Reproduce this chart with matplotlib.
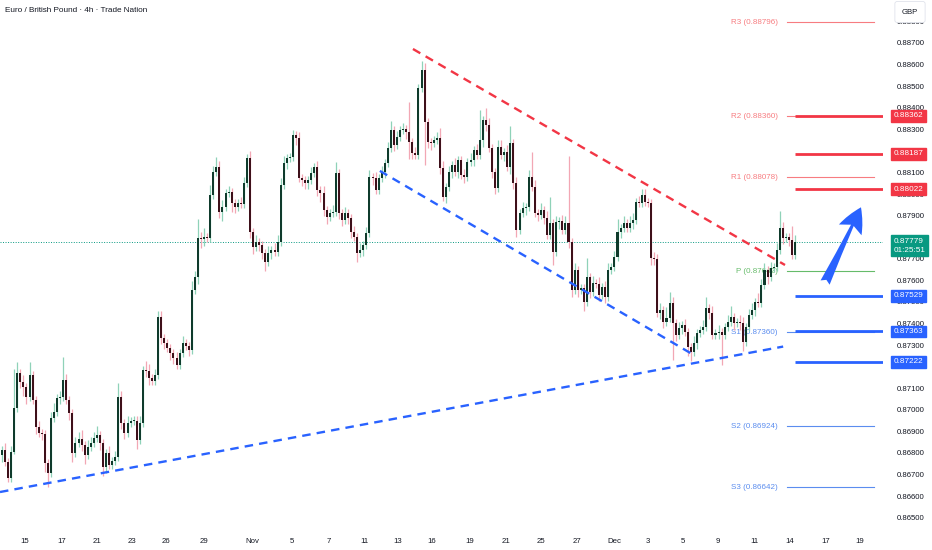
import matplotlib
matplotlib.use("Agg")
import matplotlib.pyplot as plt
import matplotlib.transforms as mtransforms
import numpy as np

plt.rcParams['font.family'] = ['Liberation Sans', 'DejaVu Sans']

title = "Euro / British Pound \u00b7 4h \u00b7 Trade Nation"

# 4h candles, open = previous close
first_open = 0.86790
closes = [
    0.86814, 0.86758, 0.86684, 0.86804, 0.87008, 0.87171, 0.87129, 0.87106, 0.87059, 0.87161,
    0.87045, 0.86920, 0.86893, 0.86888, 0.86753, 0.86707, 0.86962, 0.86990, 0.87055, 0.87059,
    0.87138, 0.87045, 0.86985, 0.86800, 0.86846, 0.86865, 0.86837, 0.86790, 0.86828, 0.86846,
    0.86869, 0.86883, 0.86846, 0.86735, 0.86800, 0.86744, 0.86763, 0.86781, 0.87059, 0.86939,
    0.86893, 0.86939, 0.86948, 0.86950, 0.86860, 0.86939, 0.87184, 0.87180, 0.87147, 0.87133,
    0.87161, 0.87430, 0.87333, 0.87310, 0.87286, 0.87263, 0.87240, 0.87208, 0.87263, 0.87310,
    0.87296, 0.87277, 0.87555, 0.87615, 0.87796, 0.87791, 0.87801, 0.87798, 0.87995, 0.88102,
    0.88125, 0.87917, 0.87940, 0.88005, 0.88009, 0.87958, 0.87940, 0.87958, 0.87955, 0.88051,
    0.88167, 0.87824, 0.87754, 0.87778, 0.87764, 0.87727, 0.87685, 0.87727, 0.87741, 0.87731,
    0.87778, 0.88042, 0.88144, 0.88167, 0.88171, 0.88273, 0.88259, 0.88074, 0.88065, 0.88051,
    0.88065, 0.88097, 0.88125, 0.88019, 0.88005, 0.87926, 0.87893, 0.87912, 0.87917, 0.88097,
    0.87912, 0.87880, 0.87912, 0.87889, 0.87824, 0.87801, 0.87727, 0.87741, 0.87764, 0.87819,
    0.88079, 0.88074, 0.88019, 0.88074, 0.88102, 0.88144, 0.88213, 0.88297, 0.88227, 0.88264,
    0.88297, 0.88301, 0.88287, 0.88241, 0.88190, 0.88181, 0.88491, 0.88575, 0.88334, 0.88241,
    0.88236, 0.88250, 0.88259, 0.88121, 0.87986, 0.88033, 0.88102, 0.88135, 0.88102, 0.88158,
    0.88088, 0.88079, 0.88148, 0.88158, 0.88204, 0.88181, 0.88250, 0.88343, 0.88320, 0.88213,
    0.88102, 0.88028, 0.88218, 0.88181, 0.88195, 0.88125, 0.88236, 0.88051, 0.87833, 0.87912,
    0.87935, 0.87940, 0.88079, 0.88033, 0.87912, 0.87903, 0.87926, 0.87889, 0.87810, 0.87866,
    0.87731, 0.87870, 0.87875, 0.87833, 0.87866, 0.87778, 0.87555, 0.87648, 0.87555, 0.87564,
    0.87500, 0.87615, 0.87546, 0.87588, 0.87585, 0.87532, 0.87569, 0.87523, 0.87648, 0.87662,
    0.87708, 0.87824, 0.87842, 0.87866, 0.87842, 0.87866, 0.87880, 0.87963, 0.87960, 0.87995,
    0.87963, 0.87958, 0.87703, 0.87700, 0.87449, 0.87463, 0.87407, 0.87425, 0.87495, 0.87402,
    0.87347, 0.87379, 0.87393, 0.87361, 0.87291, 0.87268, 0.87310, 0.87356, 0.87370, 0.87384,
    0.87472, 0.87449, 0.87347, 0.87356, 0.87361, 0.87347, 0.87384, 0.87407, 0.87430, 0.87402,
    0.87407, 0.87402, 0.87314, 0.87384, 0.87439, 0.87463, 0.87500, 0.87495, 0.87578, 0.87648,
    0.87615, 0.87657, 0.87662, 0.87741, 0.87842, 0.87796, 0.87801, 0.87787, 0.87717, 0.87779,
]
# wick lengths beyond the body, in pips
upper_wick = [
    2, 3, 2, 3, 18, 5, 2, 3, 2, 6,
    2, 2, 3, 2, 2, 2, 3, 4, 2, 3,
    10.5, 3, 2, 2, 3, 3, 4, 2, 3, 3,
    3, 4, 2, 2, 2, 3, 2, 3, 6.5, 3,
    2, 3, 2, 2, 2, 3, 2, 4, 3, 2,
    3, 3, 3, 2, 2, 2, 2, 3, 2, 3,
    2, 2, 4, 3, 9, 3, 4, 2, 4.5, 3,
    4.5, 3, 3, 2, 3, 2, 2, 2, 3, 3,
    2, 3, 2, 3, 2, 2, 2, 3, 2, 3,
    3, 3, 3, 2, 2, 2.5, 2, 3, 2, 2,
    2, 3, 2, 3, 2, 3, 2, 2, 3, 5,
    2, 2, 3, 2, 2, 3, 2, 3, 2, 3,
    3, 2, 3, 2, 3, 2, 3, 4, 2, 3,
    2, 3, 2, 14, 2, 3, 2, 4, 3, 2,
    2, 2, 3, 4.5, 3, 2, 3, 2, 3, 2,
    2, 3, 2, 3, 2, 3, 14, 2, 5.5, 3,
    2, 2, 3, 3, 2, 3, 8, 2, 3, 2,
    3, 2, 3, 11.5, 3, 2, 3, 2, 3, 12,
    2, 3, 2, 3, 3, 31, 2, 3, 2, 2,
    2, 9, 2, 3, 2, 3, 2, 3, 3, 2,
    3, 6, 2, 3, 2, 3, 3, 2, 3, 3,
    3, 2, 2, 3, 2, 3, 2, 5, 5, 3,
    2, 3, 2, 3, 2, 2, 3, 2, 2, 3,
    5, 2, 3, 2, 3, 2, 2, 3, 5, 2,
    2, 3, 3, 2, 3, 3, 2, 4, 3, 3,
    2, 3, 2, 3, 8, 3, 2, 2, 6.5, 3,
]
lower_wick = [
    3, 2, 2, 2, 1, 2, 3, 4, 3, 2,
    2, 3, 2, 3, 4, 6.5, 2, 2, 2, 3,
    2, 2, 3, 4, 2, 2, 3, 4, 2, 2,
    2, 2, 3, 4, 3, 2, 2, 2, 2, 3,
    3, 2, 2, 2, 4, 2, 2, 3, 3, 2,
    2, 2, 3, 3, 2, 3, 3, 2, 2, 2,
    2, 3, 2, 2, 3, 4, 3, 2, 2, 2,
    2, 3, 4, 2, 2, 4, 3, 2, 2, 2,
    2, 3, 3, 2, 3, 3, 4, 2, 3, 2,
    2, 2, 2, 3, 2, 2, 3, 2, 3, 3,
    3, 2, 2, 3, 4, 3, 3, 2, 2, 2,
    3, 3, 2, 3, 3, 2, 4, 2, 3, 2,
    2, 3, 2, 2, 2, 3, 2, 2, 3, 2,
    2, 2, 3, 8, 3, 2, 2, 2, 20, 3,
    3, 2, 2, 3, 2, 3, 2, 3, 2, 3,
    2, 3, 2, 2, 3, 2, 2, 3, 3, 2,
    3, 3, 2, 2, 3, 2, 3, 3, 3, 2,
    2, 3, 2, 2, 2, 3, 2, 3, 2, 2,
    6, 2, 3, 2, 2, 3, 3, 2, 3, 2,
    4, 2, 3, 2, 2, 3, 2, 3, 2, 2,
    2, 2, 3, 2, 2, 2, 3, 2, 2, 2,
    2, 2, 3, 3, 2, 3, 3, 2, 2, 17,
    3, 2, 3, 2, 4, 4, 2, 3, 2, 2,
    2, 3, 2, 2, 3, 14, 2, 2, 2, 3,
    2, 3, 4, 2, 2, 2, 3, 2, 2, 2,
    3, 2, 2, 2, 2, 3, 2, 3, 2, 2,
]

date_labels = ["15", "17", "21", "23", "26", "29", "Nov", "5", "7", "11", "13", "16",
               "19", "21", "25", "27", "Dec", "3", "5", "9", "11", "14", "17", "19"]
date_bars = [7.5, 19.6, 31.0, 42.5, 53.6, 66.0, 81.6, 94.7, 106.8, 118.2, 129.3, 140.4,
             152.8, 164.6, 176.0, 187.8, 199.9, 211.0, 222.4, 233.8, 245.6, 257.3, 269.1, 280.2]

pivot_names = ["R3", "R2", "R1", "P", "S1", "S2", "S3"]
pivot_values = [0.88796, 0.88360, 0.88078, 0.87642, 0.87360, 0.86924, 0.86642]

resistance_levels = [0.88362, 0.88187, 0.88022]
support_levels = [0.87529, 0.87363, 0.87222]

last_price = 0.87779
countdown = "01:25:51"

# trendlines: (bar, price)
falling_resistance = [(134.2, 0.88672), (255.7, 0.87671)]
falling_support = [(123.4, 0.88107), (225.3, 0.87259)]
rising_support = [(-0.65, 0.86619), (255.1, 0.87293)]
arrow_from = (268.4, 0.87578)
arrow_to = (280.9, 0.87950)

RED = "#f23645"
BLUE = "#2962ff"
TEAL = "#089981"
TXT = "#131722"

fig = plt.figure(figsize=(9.32, 5.5), dpi=100)
ax = fig.add_axes([0, 20 / 550, 883 / 932, 530 / 550])
ax.set_xlim(-0.65, 287.7)
ax.set_ylim(0.86443, 0.88899)
for s in ax.spines.values():
    s.set_visible(False)

# candles
c = np.array(closes)
o = np.array([first_open] + closes[:-1])
x = np.arange(len(c))
hi = np.maximum(o, c) + np.array(upper_wick) * 1e-4
lo = np.minimum(o, c) - np.array(lower_wick) * 1e-4
up = c >= o
dn = ~up
ax.vlines(x[up], lo[up], hi[up], color="#8fd2b8", lw=0.9, zorder=3)
ax.vlines(x[dn], lo[dn], hi[dn], color="#f2a7b4", lw=0.9, zorder=3)
body = np.maximum(np.abs(c - o), 0.00003)
ax.bar(x[up], body[up], bottom=np.minimum(o, c)[up], width=0.66, color="#0f3b2c", zorder=4)
ax.bar(x[dn], body[dn], bottom=np.minimum(o, c)[dn], width=0.66, color="#3e101a", zorder=4)

# last price dotted line
ax.axhline(last_price, color=TEAL, lw=0.7, ls=(0, (1, 1.6)), zorder=1)

# trendlines
for line, col in [(falling_resistance, RED), (falling_support, BLUE), (rising_support, BLUE)]:
    ax.plot([line[0][0], line[1][0]], [line[0][1], line[1][1]], color=col, lw=1.7,
            dashes=(3.6, 2.6), zorder=5)

# pivot points
piv_col = {"R": "#f77c80", "P": "#66bb6a", "S": "#5b8def"}
for name, v in zip(pivot_names, pivot_values):
    col = piv_col[name[0]]
    ax.plot([256.4, 284.8], [v, v], color=col, lw=0.8, zorder=2)
    ax.text(253.3, v, f"{name} ({v:.5f})", color=col, fontsize=5.8, ha="right", va="center", zorder=2)

# horizontal levels
trans = mtransforms.blended_transform_factory(ax.transAxes, ax.transData)
for levels, col in [(resistance_levels, RED), (support_levels, BLUE)]:
    for v in levels:
        ax.plot([259.0, 287.7], [v, v], color=col, lw=2.0, zorder=5, solid_capstyle="butt")
        ax.text(1.012, v, f"{v:.5f}", transform=trans, color="white", fontsize=5.9,
                ha="left", va="center", zorder=10, clip_on=False,
                bbox=dict(boxstyle="square,pad=0.3", fc=col, ec=col))

ax.annotate(f"{last_price:.5f}\n{countdown}", xy=(1.012, last_price), xycoords=trans,
            xytext=(0, 2.6), textcoords="offset points", color="white", fontsize=5.9,
            ha="left", va="top", linespacing=1.3, zorder=10, annotation_clip=False,
            bbox=dict(boxstyle="square,pad=0.32", fc=TEAL, ec=TEAL))

# arrow
ax.annotate("", xy=arrow_to, xytext=arrow_from,
            arrowprops=dict(arrowstyle="fancy,head_length=1.5,head_width=1.5,tail_width=0.6",
                            color=BLUE, lw=0, mutation_scale=12), zorder=6)

# axes ticks
ax.yaxis.tick_right()
ax.set_yticks(np.arange(0.865, 0.8885, 0.001))
ax.yaxis.set_major_formatter(matplotlib.ticker.FormatStrFormatter("%.5f"))
ax.tick_params(axis="y", length=0, pad=10, labelsize=5.6, labelcolor=TXT)
ax.set_xticks(date_bars)
ax.set_xticklabels(date_labels)
ax.tick_params(axis="x", length=0, pad=6, labelsize=5.6, labelcolor=TXT)

fig.text(5 / 932, 1 - 11 / 550, title, fontsize=5.9, color=TXT, ha="left", va="center")
fig.text(910 / 932, 1 - 12 / 550, "GBP", fontsize=5.6, color=TXT, ha="center", va="center",
         bbox=dict(boxstyle="round,pad=0.9,rounding_size=0.3", fc="white", ec="#e0e3eb", lw=0.6))

fig.savefig("out.png", dpi=100)
